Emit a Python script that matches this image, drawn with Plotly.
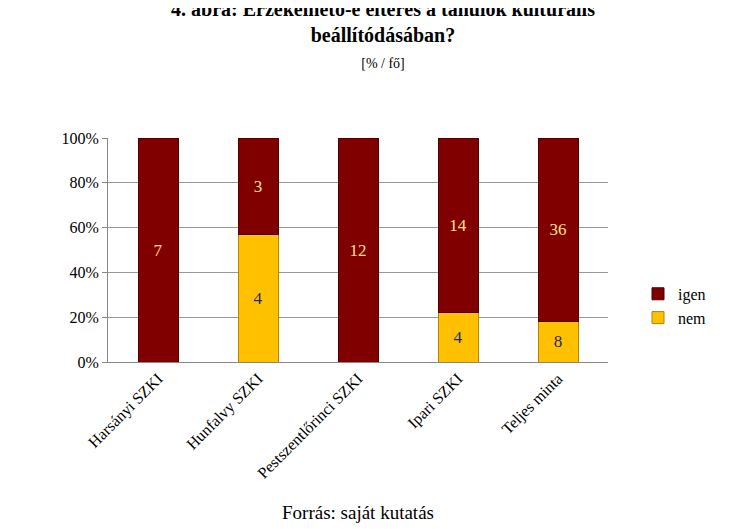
import plotly.graph_objects as go

categories = ["Harsányi SZKI", "Hunfalvy SZKI", "Pestszentlőrinci SZKI", "Ipari SZKI", "Teljes minta"]
igen = [7, 3, 12, 14, 36]
nem = [0, 4, 0, 4, 8]
totals = [a + b for a, b in zip(igen, nem)]
igen_pct = [100 * a / t for a, t in zip(igen, totals)]
nem_pct = [100 * b / t for b, t in zip(nem, totals)]

font = "Liberation Serif"
fig = go.Figure()
fig.add_bar(x=categories, y=nem_pct, name="nem", marker=dict(color="#FFC000", line=dict(color="#B38600", width=1)),
            text=[str(v) if v else "" for v in nem], textposition="inside", insidetextanchor="middle",
            textfont=dict(family=font, size=17, color="#1F2A6B"), hoverinfo="skip")
fig.add_bar(x=categories, y=igen_pct, name="igen", marker=dict(color="#800000", line=dict(color="#4D0000", width=1)),
            text=[str(v) for v in igen], textposition="inside", insidetextanchor="middle",
            textfont=dict(family=font, size=17, color="#FFE08A"), hoverinfo="skip")

fig.update_layout(
    width=750, height=529, barmode="stack", bargap=0.6,
    paper_bgcolor="white", plot_bgcolor="white",
    font=dict(family=font, size=16, color="black"),
    title=dict(text="<b>4. ábra: Érzékelhető-e eltérés a tanulók kulturális<br>beállítódásában?</b><br><span style='font-size:14px'>[% / fő]</span>",
               x=0.5, xanchor="center", y=0.985, yanchor="top", font=dict(family=font, size=20)),
    margin=dict(l=100, r=150, t=130, b=175),
    legend=dict(x=1.06, y=0.38, xanchor="left", yanchor="top", traceorder="reversed",
                font=dict(family=font, size=16), itemwidth=30),
    xaxis=dict(tickangle=-45, showline=True, linecolor="#888", tickfont=dict(family=font, size=16)),
    yaxis=dict(range=[0, 100], dtick=20, ticksuffix="%", showgrid=True, gridcolor="#999",
               showline=True, linecolor="#888", ticks="outside", tickcolor="#888",
               tickfont=dict(family=font, size=16)),
    annotations=[dict(text="Forrás: saját kutatás", x=0.5, y=-0.67, xref="paper", yref="paper",
                      yanchor="middle", xanchor="center", showarrow=False,
                      font=dict(family=font, size=19))],
)
fig.write_html("out.html")
